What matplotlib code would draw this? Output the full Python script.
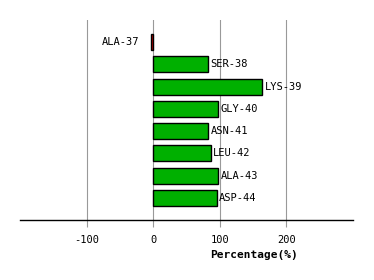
import matplotlib
matplotlib.use("Agg")
import matplotlib.pyplot as plt

residues = ["ALA-37", "SER-38", "LYS-39", "GLY-40", "ASN-41", "LEU-42", "ALA-43", "ASP-44"]
values = [-3, 83, 164, 98, 83, 87, 98, 96]
xticks = [-100, 0, 100, 200]

plt.rcParams["font.family"] = ["DejaVu Sans Mono"]

fig = plt.figure(figsize=(3.74, 2.8), dpi=100)
ax = fig.add_axes([20 / 374, 1 - 220 / 280, 333 / 374, 200 / 280])

colors = ["#cc0000" if v < 0 else "#00b000" for v in values]
ys = list(range(len(values)))
ax.barh(ys, values, height=0.72, color=colors, edgecolor="black", linewidth=1, zorder=3)

for y, v, name in zip(ys, values, residues):
    if v < 0:
        ax.text(v - 18, y, name, ha="right", va="center", fontsize=7.5, zorder=4)
    else:
        ax.text(v + 3, y, name, ha="left", va="center", fontsize=7.5, zorder=4)

ax.set_xlim(-200, 300)
ax.set_ylim(8, -1)
ax.set_xticks(xticks)
ax.set_xticklabels([str(t) for t in xticks], fontsize=7.5)
ax.set_yticks([])
ax.grid(axis="x", color="#999999", linewidth=0.8, zorder=0)
for s in ["left", "right", "top"]:
    ax.spines[s].set_visible(False)
ax.spines["bottom"].set_linewidth(1)
ax.tick_params(axis="x", length=5, width=0.8, color="#999999", pad=6)

fig.text(254 / 374, 1 - 255 / 280, "Percentage(%)", ha="center", va="center",
         fontsize=8, fontweight="bold")

fig.savefig("out.png", dpi=100)
